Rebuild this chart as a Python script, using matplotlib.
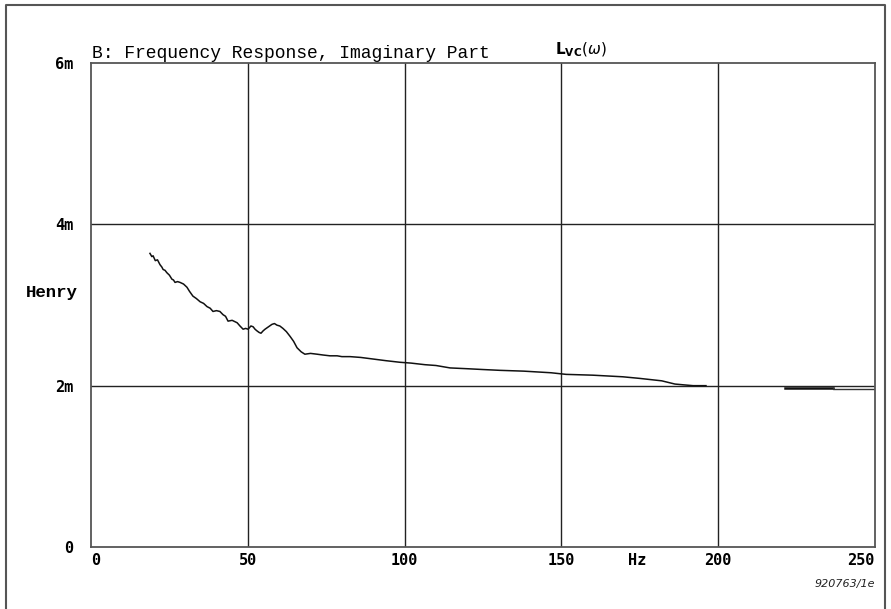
import numpy as np
import matplotlib
matplotlib.use('Agg')
import matplotlib.pyplot as plt

# data (Hz, mH)
freq = [18.8, 19.4, 19.8, 20.5, 21.2, 22.0, 22.6, 23.0, 23.6, 24.2, 25.0, 25.8, 26.3, 26.8,
        27.6, 28.4, 29.5, 30.6, 31.4, 32.5, 33.6, 34.8, 35.9, 37.0, 38.0, 38.9, 40.0, 41.1,
        42.1, 42.9, 43.7, 45.0, 46.6, 47.5, 48.5, 49.3, 50.1, 51.0, 51.7, 52.3, 52.9, 53.6,
        54.2, 54.9, 55.5, 56.6, 57.7, 58.5, 59.3, 60.2, 61.2, 62.3, 63.5, 64.6, 65.7, 67.0,
        68.2, 70.0, 72.1, 74.0, 76.2, 78.5, 80.0, 82.6, 86.0, 90.0, 94.0, 98.5, 102.0, 106.5,
        110.0, 114.5, 120.0, 125.0, 130.4, 138.0, 146.7, 151.5, 160.0, 169.6, 175.0, 182.0,
        186.2, 189.0, 192.0, 196.1]
lvc = [3.64, 3.60, 3.61, 3.55, 3.56, 3.50, 3.47, 3.44, 3.43, 3.40, 3.37, 3.32, 3.31, 3.28,
       3.29, 3.28, 3.26, 3.22, 3.17, 3.11, 3.08, 3.04, 3.02, 2.98, 2.96, 2.92, 2.93, 2.92,
       2.88, 2.86, 2.80, 2.81, 2.78, 2.74, 2.70, 2.71, 2.70, 2.74, 2.73, 2.70, 2.68, 2.66,
       2.65, 2.68, 2.70, 2.73, 2.76, 2.77, 2.75, 2.74, 2.71, 2.67, 2.61, 2.55, 2.47, 2.42,
       2.39, 2.40, 2.39, 2.38, 2.37, 2.37, 2.36, 2.36, 2.35, 2.33, 2.31, 2.29, 2.28, 2.26,
       2.25, 2.22, 2.21, 2.20, 2.19, 2.18, 2.16, 2.14, 2.13, 2.11, 2.09, 2.06,
       2.02, 2.01, 2.00, 2.00]
freq_tail = [221.3, 236.6, 236.6, 250.0]
lvc_tail = [1.975, 1.975, 1.963, 1.963]

xticks = [0, 50, 100, 150, 200, 250]
yticks = [0, 2, 4, 6]
ylabels = ['0', '2m', '4m', '6m']

fig = plt.figure(figsize=(8.91, 6.09), dpi=100)
W, H = 891.0, 609.0

# outer frame (open at the bottom)
fig.add_artist(plt.Line2D([6 / W, 6 / W, 885 / W, 885 / W], [0, 1 - 5 / H, 1 - 5 / H, 0],
                          transform=fig.transFigure, color='#555555', lw=1.5))

ax = fig.add_axes([91 / W, (H - 547) / H, (875 - 91) / W, (547 - 63) / H])
ax.set_xlim(0, 250)
ax.set_ylim(0, 6)
ax.set_xticks(xticks)
ax.set_yticks(yticks)
ax.set_xticklabels([str(t) for t in xticks], family='DejaVu Sans Mono', fontweight='bold', fontsize=11)
ax.set_yticklabels(ylabels, family='DejaVu Sans Mono', fontweight='bold', fontsize=11)
ax.tick_params(length=0)
ax.tick_params(axis='x', pad=4)
ax.tick_params(axis='y', pad=13)
xl = ax.get_xticklabels()
xl[0].set_horizontalalignment('left')
xl[-1].set_horizontalalignment('right')
for s in ax.spines.values():
    s.set_color('#555555')
    s.set_linewidth(1.3)

for x in xticks[1:-1]:
    ax.axvline(x, color='#222222', lw=1.0)
for y in yticks[1:-1]:
    ax.axhline(y, color='#222222', lw=1.0)

ax.plot(freq, lvc, color='#111111', lw=1.1)
ax.plot(freq_tail[:2], lvc_tail[:2], color='#111111', lw=1.8)
ax.plot(freq_tail[1:], lvc_tail[1:], color='#333333', lw=1.0)

# labels
fig.text(92 / W, 1 - 58 / H, 'B: Frequency Response, Imaginary Part',
         family='Liberation Mono', fontsize=13, va='baseline', ha='left')
fig.text(555 / W, 1 - 54 / H, r'$\mathbf{L}_{\mathbf{VC}}(\omega)$', fontsize=11,
         va='baseline', ha='left')
fig.text(78 / W, 1 - 297 / H, 'Henry', family='Liberation Mono', fontweight='bold',
         fontsize=12.5, ha='right', va='baseline')
ax.text(174, -0.07, 'Hz', family='DejaVu Sans Mono', fontweight='bold', fontsize=11,
        ha='center', va='top', transform=ax.transData, clip_on=False)
fig.text(875 / W, 1 - 587 / H, '920763/1e', style='italic', fontsize=8,
         ha='right', va='baseline', color='#222222')

fig.savefig('out.png', dpi=100)
